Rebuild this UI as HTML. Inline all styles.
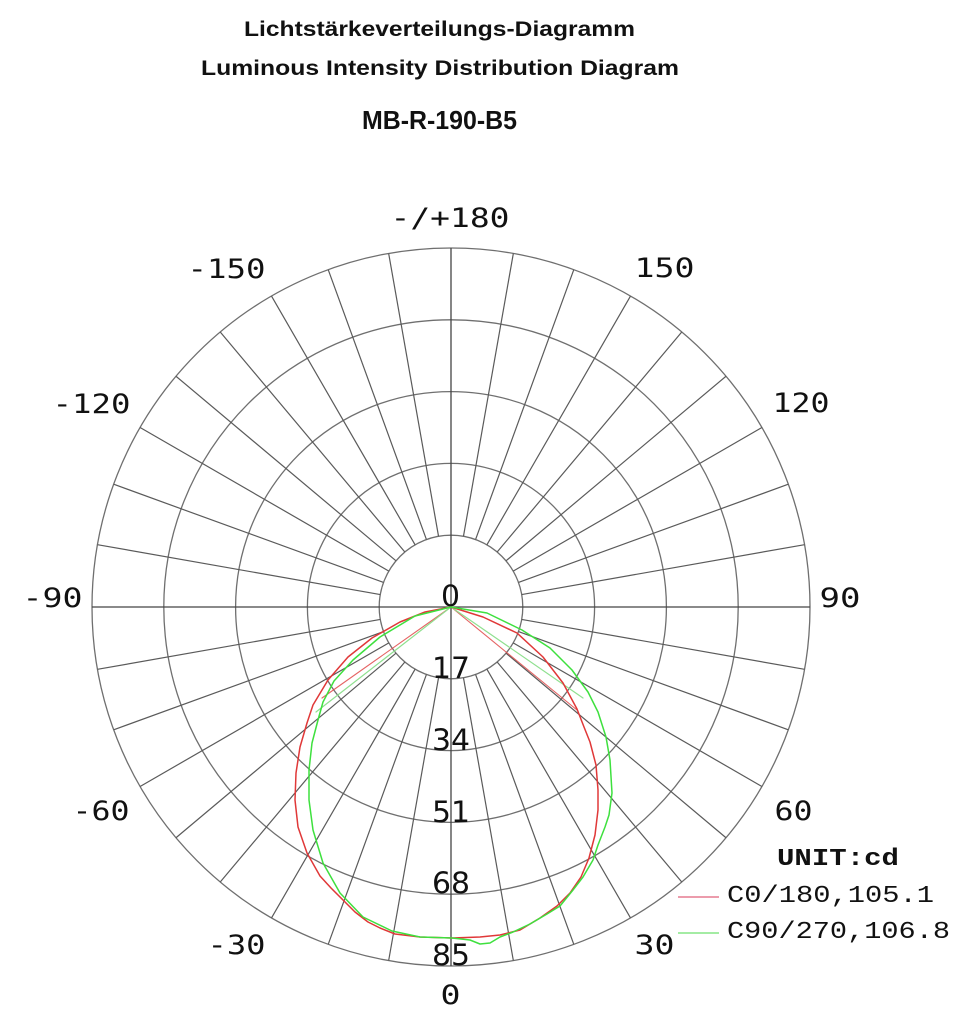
<!DOCTYPE html>
<html>
<head>
<meta charset="utf-8">
<style>
html,body{margin:0;padding:0;background:#fff;}
svg{display:block;}
.t{font-family:"Liberation Sans","DejaVu Sans",sans-serif;font-weight:bold;fill:#111;}
.a{font-family:"DejaVu Sans Mono","Liberation Mono",monospace;font-size:27px;fill:#111;}
.r{font-family:"DejaVu Sans","Liberation Sans",sans-serif;font-size:29px;fill:#111;}
.l{font-family:"Liberation Mono","DejaVu Sans Mono",monospace;fill:#111;}
</style>
</head>
<body>
<svg width="975" height="1024" viewBox="0 0 975 1024" xmlns="http://www.w3.org/2000/svg">
<rect width="975" height="1024" fill="#fff"/>
<!-- titles -->
<text class="t" x="244" y="36" font-size="21" textLength="391" lengthAdjust="spacingAndGlyphs">Lichtstärkeverteilungs-Diagramm</text>
<text class="t" x="201" y="75" font-size="21" textLength="478" lengthAdjust="spacingAndGlyphs">Luminous Intensity Distribution Diagram</text>
<text class="t" x="362" y="129" font-size="26" textLength="155" lengthAdjust="spacingAndGlyphs">MB-R-190-B5</text>

<!-- grid -->
<g transform="translate(451,607)" fill="none" stroke="#6f6f6f" stroke-width="1.3">
<circle r="71.8"/><circle r="143.6"/><circle r="215.4"/><circle r="287.2"/><circle r="359"/>
<g stroke="#5a5a5a" stroke-width="1.2">
<line x1="0" y1="71.8" x2="0" y2="359" transform="rotate(10)"/>
<line x1="0" y1="71.8" x2="0" y2="359" transform="rotate(20)"/>
<line x1="0" y1="71.8" x2="0" y2="359" transform="rotate(30)"/>
<line x1="0" y1="71.8" x2="0" y2="359" transform="rotate(40)"/>
<line x1="0" y1="71.8" x2="0" y2="359" transform="rotate(50)"/>
<line x1="0" y1="71.8" x2="0" y2="359" transform="rotate(60)"/>
<line x1="0" y1="71.8" x2="0" y2="359" transform="rotate(70)"/>
<line x1="0" y1="71.8" x2="0" y2="359" transform="rotate(80)"/>
<line x1="0" y1="71.8" x2="0" y2="359" transform="rotate(100)"/>
<line x1="0" y1="71.8" x2="0" y2="359" transform="rotate(110)"/>
<line x1="0" y1="71.8" x2="0" y2="359" transform="rotate(120)"/>
<line x1="0" y1="71.8" x2="0" y2="359" transform="rotate(130)"/>
<line x1="0" y1="71.8" x2="0" y2="359" transform="rotate(140)"/>
<line x1="0" y1="71.8" x2="0" y2="359" transform="rotate(150)"/>
<line x1="0" y1="71.8" x2="0" y2="359" transform="rotate(160)"/>
<line x1="0" y1="71.8" x2="0" y2="359" transform="rotate(170)"/>
<line x1="0" y1="71.8" x2="0" y2="359" transform="rotate(190)"/>
<line x1="0" y1="71.8" x2="0" y2="359" transform="rotate(200)"/>
<line x1="0" y1="71.8" x2="0" y2="359" transform="rotate(210)"/>
<line x1="0" y1="71.8" x2="0" y2="359" transform="rotate(220)"/>
<line x1="0" y1="71.8" x2="0" y2="359" transform="rotate(230)"/>
<line x1="0" y1="71.8" x2="0" y2="359" transform="rotate(240)"/>
<line x1="0" y1="71.8" x2="0" y2="359" transform="rotate(250)"/>
<line x1="0" y1="71.8" x2="0" y2="359" transform="rotate(260)"/>
<line x1="0" y1="71.8" x2="0" y2="359" transform="rotate(280)"/>
<line x1="0" y1="71.8" x2="0" y2="359" transform="rotate(290)"/>
<line x1="0" y1="71.8" x2="0" y2="359" transform="rotate(300)"/>
<line x1="0" y1="71.8" x2="0" y2="359" transform="rotate(310)"/>
<line x1="0" y1="71.8" x2="0" y2="359" transform="rotate(320)"/>
<line x1="0" y1="71.8" x2="0" y2="359" transform="rotate(330)"/>
<line x1="0" y1="71.8" x2="0" y2="359" transform="rotate(340)"/>
<line x1="0" y1="71.8" x2="0" y2="359" transform="rotate(350)"/>
</g>
<g stroke="#444" stroke-width="1.3">
<line x1="-359" y1="0" x2="359" y2="0"/>
<line x1="0" y1="-359" x2="0" y2="359"/>
</g>
</g>

<!-- radial value labels -->
<text class="r" x="441" y="606" textLength="19" lengthAdjust="spacingAndGlyphs">0</text>
<text class="r" x="432" y="678" textLength="38" lengthAdjust="spacingAndGlyphs">17</text>
<text class="r" x="432" y="750" textLength="38" lengthAdjust="spacingAndGlyphs">34</text>
<text class="r" x="432" y="822" textLength="38" lengthAdjust="spacingAndGlyphs">51</text>
<text class="r" x="432" y="893" textLength="38" lengthAdjust="spacingAndGlyphs">68</text>
<text class="r" x="432" y="965" textLength="38" lengthAdjust="spacingAndGlyphs">85</text>

<!-- curves -->
<g fill="none" stroke-linejoin="round" stroke-linecap="round">
<polyline stroke="#e04848" stroke-width="1.1" opacity="0.85" points="451,607 577,710"/>
<polyline stroke="#e04848" stroke-width="1.1" opacity="0.85" points="451,607 322,698"/>
<polyline stroke="#8fe08f" stroke-width="1.2" points="451,607 583,698"/>
<polyline stroke="#8fe08f" stroke-width="1.2" points="451,607 316,712"/>
<polyline stroke="#e03838" stroke-width="1.5" points="451,607 483,617 517,633 543,657 563,683 577,709 584,727 590,742 596,765 598,790 598,810 595,835 589,858 581,877 570,893 557,906 540,918 520,930 500,935 480,937 452,938 420,937 395,934 380,928 368,922 355,912 343,900 331,888 320,876 307,853 298,827 295,800 296,773 300,747 307,723 313,705 328,680 348,657 372,638 400,622 425,612 451,607"/>
<polyline stroke="#3ee03e" stroke-width="1.5" points="451,607 487,613 522,630 550,648 572,670 588,692 598,712 606,737 610,760 612,793 609,815 605,827 598,845 593,860 583,877 573,890 560,906 547,914 530,924 513,932 500,937 490,943 480,944 470,940 452,938 420,937 392,931 363,917 340,893 323,863 313,830 309,800 309,770 312,743 318,720 323,702 334,681 353,660 380,637 415,616 451,607"/>
</g>

<!-- angle labels -->
<text class="a" x="390.5" y="227" textLength="119" lengthAdjust="spacingAndGlyphs">-/+180</text>
<text class="a" x="187.5" y="278" textLength="78" lengthAdjust="spacingAndGlyphs">-150</text>
<text class="a" x="634.5" y="277" textLength="60" lengthAdjust="spacingAndGlyphs">150</text>
<text class="a" x="52.5" y="413" textLength="78" lengthAdjust="spacingAndGlyphs">-120</text>
<text class="a" x="772.5" y="412" textLength="57" lengthAdjust="spacingAndGlyphs">120</text>
<text class="a" x="22.5" y="607" textLength="60" lengthAdjust="spacingAndGlyphs">-90</text>
<text class="a" x="819.5" y="607" textLength="41" lengthAdjust="spacingAndGlyphs">90</text>
<text class="a" x="72.5" y="820" textLength="57" lengthAdjust="spacingAndGlyphs">-60</text>
<text class="a" x="774.5" y="820" textLength="38" lengthAdjust="spacingAndGlyphs">60</text>
<text class="a" x="207.5" y="954" textLength="58" lengthAdjust="spacingAndGlyphs">-30</text>
<text class="a" x="634.5" y="954" textLength="40" lengthAdjust="spacingAndGlyphs">30</text>
<text class="a" x="440.5" y="1004" textLength="20" lengthAdjust="spacingAndGlyphs">0</text>

<!-- legend -->
<text class="l" x="777" y="865" font-size="24" font-weight="bold" textLength="122" lengthAdjust="spacingAndGlyphs">UNIT:cd</text>
<line x1="678" y1="897" x2="719" y2="897" stroke="#e0607a" stroke-width="1.3"/>
<text class="l" x="727" y="902" font-size="24" textLength="207" lengthAdjust="spacingAndGlyphs">C0/180,105.1</text>
<line x1="678" y1="933" x2="719" y2="933" stroke="#6ee06e" stroke-width="1.3"/>
<text class="l" x="727" y="938" font-size="24" textLength="223" lengthAdjust="spacingAndGlyphs">C90/270,106.8</text>
</svg>
</body>
</html>
